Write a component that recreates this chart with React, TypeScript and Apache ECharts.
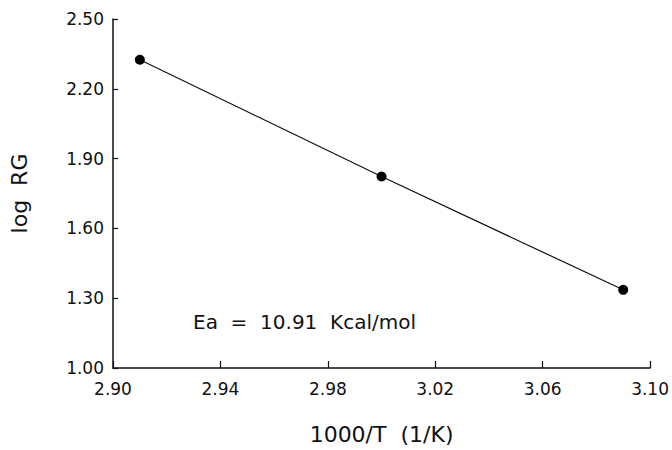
import React, { useEffect, useRef } from "react";
import * as echarts from "echarts";

const xValues = [2.91, 3.0, 3.09];
const logRG = [2.325, 1.823, 1.336];
const xTitle = "1000/T  (1/K)";
const yTitle = "log  RG";
const annotation = "Ea  =  10.91  Kcal/mol";

const FONT = "DejaVu Sans";

export default function App() {
  const ref = useRef<HTMLDivElement>(null);
  useEffect(() => {
    document.body.style.margin = "0";
    const chart = echarts.init(ref.current!, null, { renderer: "svg" });
    chart.setOption({
      animation: false,
      backgroundColor: "#ffffff",
      grid: { left: 110, right: 20, top: 19, bottom: 79 },
      xAxis: {
        type: "value",
        min: 2.9,
        max: 3.1,
        interval: 0.04,
        name: xTitle,
        nameLocation: "middle",
        nameGap: 55,
        nameTextStyle: { fontFamily: FONT, fontSize: 22, color: "#111" },
        axisLine: { show: true, onZero: false, lineStyle: { color: "#111", width: 1.5 } },
        axisTick: { show: true, inside: true, length: 7, lineStyle: { color: "#111", width: 1.2 } },
        axisLabel: {
          fontFamily: FONT,
          fontSize: 17,
          color: "#111",
          margin: 12,
          formatter: (v: number) => v.toFixed(2),
        },
        splitLine: { show: false },
      },
      yAxis: {
        type: "value",
        min: 1.0,
        max: 2.5,
        interval: 0.3,
        name: yTitle,
        nameLocation: "middle",
        nameGap: 83,
        nameTextStyle: { fontFamily: FONT, fontSize: 22, color: "#111" },
        axisLine: { show: true, onZero: false, lineStyle: { color: "#111", width: 1.5 } },
        axisTick: { show: true, inside: true, length: 5, lineStyle: { color: "#111", width: 1.2 } },
        axisLabel: {
          fontFamily: FONT,
          fontSize: 17,
          color: "#111",
          margin: 9,
          formatter: (v: number) => v.toFixed(2),
        },
        splitLine: { show: false },
      },
      graphic: [
        {
          type: "text",
          x: 193,
          y: 322,
          style: {
            text: annotation,
            fontFamily: FONT,
            fontSize: 20,
            fill: "#111",
            textVerticalAlign: "middle",
            verticalAlign: "middle",
          },
        },
      ],
      series: [
        {
          type: "line",
          data: xValues.map((x, i) => [x, logRG[i]]),
          symbol: "circle",
          symbolSize: 10,
          itemStyle: { color: "#000" },
          lineStyle: { color: "#111", width: 1.2 },
        },
      ],
    });
    return () => chart.dispose();
  }, []);
  return <div ref={ref} style={{ width: 672, height: 450 }} />;
}
